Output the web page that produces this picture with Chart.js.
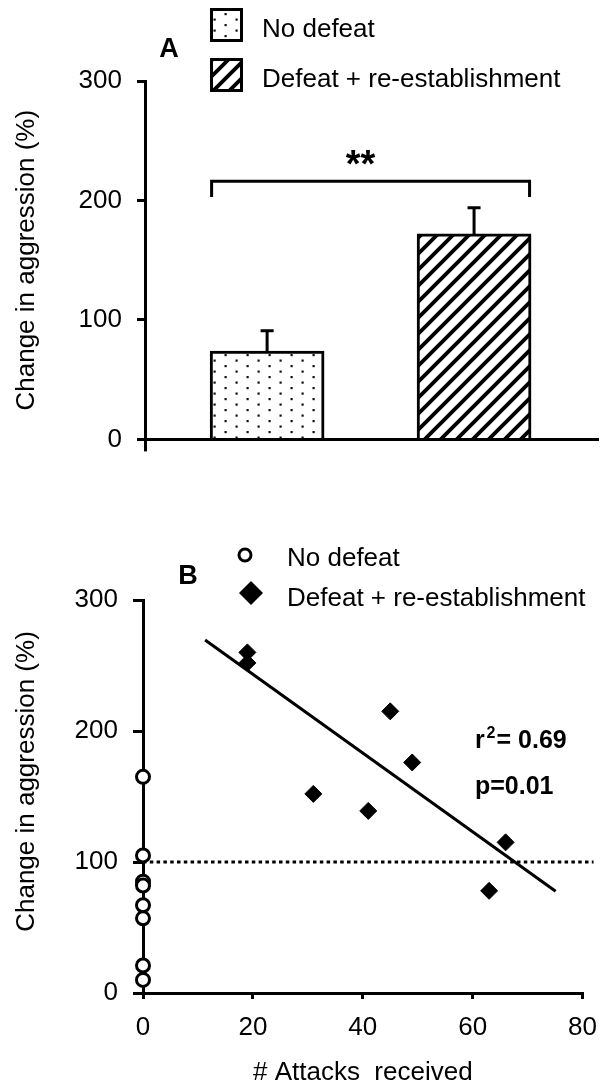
<!DOCTYPE html>
<html>
<head>
<meta charset="utf-8">
<script src="https://cdn.jsdelivr.net/npm/chart.js"></script>
<style>
  html, body { margin: 0; padding: 0; background: #fff; }
  body { width: 610px; height: 1084px; position: relative; overflow: hidden; }
  canvas { position: absolute; left: 0; }
  #chartA { top: 0; }
  #chartB { top: 500px; }
</style>
</head>
<body>
<canvas id="chartA" width="610" height="470"></canvas>
<canvas id="chartB" width="610" height="584"></canvas>
<script>
// Panel A: media y error por grupo
const groups = ['No defeat', 'Defeat + re-establishment'];
const groupPos = [1, 2];
const meanChange = [74, 172];
const semChange = [17, 22];
const yTicksA = [0, 100, 200, 300];

// Panel B: ataques recibidos vs cambio
const noDefeatAttacks = [0, 0, 0, 0, 0, 0, 0, 0];
const noDefeatChange = [165, 105, 85, 82, 67, 57, 21, 10];
const defeatAttacks = [19, 19, 31, 41, 45, 49, 66, 63];
const defeatChange = [260, 252, 152, 139, 215, 176, 115, 78];
const fitAttacks = [11.3, 75.1];
const fitChange = [269.4, 77.6];
const baselineAttacks = [0, 82];
const baselineChange = [100, 100];
const xTicksB = [0, 20, 40, 60, 80];
const yTicksB = [0, 100, 200, 300];

const FONT = "'Liberation Sans', Arial, sans-serif";

function dotPattern(ctx) {
    const c = document.createElement('canvas');
    c.width = 22; c.height = 11;
    const g = c.getContext('2d');
    g.fillStyle = '#fff';
    g.fillRect(0, 0, 22, 11);
    g.fillStyle = '#111';
    g.fillRect(4.5, 2, 2.2, 2.2);
    g.fillRect(15.5, 7.5, 2.2, 2.2);
    return ctx.createPattern(c, 'repeat');
}

function hatchPattern(ctx) {
    const c = document.createElement('canvas');
    c.width = 16; c.height = 16;
    const g = c.getContext('2d');
    g.fillStyle = '#fff';
    g.fillRect(0, 0, 16, 16);
    g.strokeStyle = '#000';
    g.lineWidth = 3.8;
    g.beginPath();
    g.moveTo(-2, 2); g.lineTo(2, -2);
    g.moveTo(-2, 18); g.lineTo(18, -2);
    g.moveTo(14, 18); g.lineTo(18, 14);
    g.stroke();
    return ctx.createPattern(c, 'repeat');
}

function text(ctx, str, x, y, size, bold, align) {
    ctx.font = (bold ? 'bold ' : '') + size + 'px ' + FONT;
    ctx.textAlign = align || 'left';
    ctx.textBaseline = 'alphabetic';
    ctx.fillStyle = '#000';
    ctx.fillText(str, x, y);
}

const tickGrid = len => ({ drawOnChartArea: false, offset: false, tickLength: len, lineWidth: 3, color: '#000' });
const axisBorder = { color: '#000', width: 3 };
const tickFont = { family: FONT, size: 26 };

// ---------- Panel A ----------
const ctxA = document.getElementById('chartA').getContext('2d');
const fillsA = [dotPattern(ctxA), hatchPattern(ctxA)];

const extrasA = {
    id: 'extrasA',
    afterDatasetsDraw(chart) {
        const { ctx, scales: { x, y } } = chart;
        ctx.save();
        ctx.strokeStyle = '#000';
        ctx.lineWidth = 3;

        // barras de error (solo hacia arriba)
        groupPos.forEach((p, i) => {
            const px = x.getPixelForValue(p);
            const top = y.getPixelForValue(meanChange[i] + semChange[i]);
            ctx.beginPath();
            ctx.moveTo(px, y.getPixelForValue(meanChange[i]));
            ctx.lineTo(px, top);
            ctx.moveTo(px - 6.5, top);
            ctx.lineTo(px + 6.5, top);
            ctx.stroke();
        });

        // corchete de significancia
        const half = 57 - 1.5;
        const xl = x.getPixelForValue(groupPos[0]) - half;
        const xr = x.getPixelForValue(groupPos[1]) + half;
        const yb = y.getPixelForValue(216);
        const yl = y.getPixelForValue(203);
        ctx.beginPath();
        ctx.moveTo(xl, yl); ctx.lineTo(xl, yb); ctx.lineTo(xr, yb); ctx.lineTo(xr, yl);
        ctx.stroke();
        text(ctx, '**', (xl + xr) / 2 - 10, 177, 38, true, 'center');

        text(ctx, 'A', 169, 57, 27, true, 'center');

        // leyenda
        [8, 58].forEach((top, i) => {
            ctx.fillStyle = fillsA[i];
            ctx.fillRect(211, top + 1, 31, 32);
            ctx.strokeRect(211.5, top + 1.5, 30, 31);
            text(ctx, groups[i], 262, top + 29, 26, false);
        });
        ctx.restore();
    }
};

new Chart(ctxA, {
    type: 'bar',
    data: {
        datasets: groups.map((g, i) => ({
            label: g,
            data: [{ x: groupPos[i], y: meanChange[i] }],
            backgroundColor: fillsA[i],
            borderColor: '#000',
            borderWidth: 3,
            barThickness: 114,
            grouped: false
        }))
    },
    options: {
        responsive: false,
        animation: false,
        events: [],
        layout: { padding: { top: 81, right: 13, left: 0, bottom: 0 } },
        plugins: { legend: { display: false }, tooltip: { enabled: false } },
        scales: {
            x: {
                type: 'linear',
                offset: false,
                min: 0.41,
                max: 2.594,
                afterBuildTicks: s => { s.ticks = [{ value: s.min }]; },
                afterFit: s => { s.height = 28; },
                ticks: { display: false },
                grid: tickGrid(12),
                border: axisBorder
            },
            y: {
                min: 0,
                max: 300,
                afterBuildTicks: s => { s.ticks = yTicksA.map(v => ({ value: v })); },
                afterFit: s => { s.width = 145; },
                ticks: { color: '#000', font: tickFont, padding: 15 },
                grid: tickGrid(8),
                border: axisBorder,
                title: {
                    display: true,
                    text: 'Change in aggression (%)',
                    color: '#000',
                    font: { family: FONT, size: 26 },
                    padding: { top: 11, bottom: 0 }
                }
            }
        }
    },
    plugins: [extrasA]
});

// ---------- Panel B ----------
const ctxB = document.getElementById('chartB').getContext('2d');

const extrasB = {
    id: 'extrasB',
    afterDraw(chart) {
        const ctx = chart.ctx;
        ctx.save();
        text(ctx, 'B', 188, 84, 27, true, 'center');

        // leyenda
        ctx.lineWidth = 3;
        ctx.strokeStyle = '#000';
        ctx.fillStyle = '#fff';
        ctx.beginPath();
        ctx.arc(245, 55, 6, 0, Math.PI * 2);
        ctx.fill();
        ctx.stroke();
        text(ctx, groups[0], 287, 66, 26, false);

        ctx.fillStyle = '#000';
        ctx.beginPath();
        ctx.moveTo(251 - 12, 93); ctx.lineTo(251, 81); ctx.lineTo(251 + 12, 93); ctx.lineTo(251, 105);
        ctx.closePath();
        ctx.fill();
        text(ctx, groups[1], 287, 106, 26, false);

        // estadistica
        text(ctx, 'r', 475, 248, 25, true);
        text(ctx, '2', 486.5, 238, 16, true);
        text(ctx, '= 0.69', 496.5, 248, 25, true);
        text(ctx, 'p=0.01', 475, 294, 25, true);

        // titulo eje y
        ctx.translate(27, 281.5);
        ctx.rotate(-Math.PI / 2);
        ctx.font = '26px ' + FONT;
        ctx.textAlign = 'center';
        ctx.textBaseline = 'middle';
        ctx.fillStyle = '#000';
        ctx.fillText('Change in aggression (%)', 0, 0);
        ctx.restore();
    }
};

const toPoints = (xs, ys) => xs.map((v, i) => ({ x: v, y: ys[i] }));

new Chart(ctxB, {
    type: 'scatter',
    data: {
        datasets: [
            {
                label: groups[0],
                data: toPoints(noDefeatAttacks, noDefeatChange),
                pointStyle: 'circle',
                pointRadius: 6.5,
                pointBorderWidth: 3,
                pointBorderColor: '#000',
                pointBackgroundColor: '#fff',
                clip: false
            },
            {
                label: groups[1],
                data: toPoints(defeatAttacks, defeatChange),
                pointStyle: 'rectRot',
                pointRadius: 8.5,
                pointBorderWidth: 1,
                pointBorderColor: '#000',
                pointBackgroundColor: '#000',
                clip: false
            },
            {
                label: 'fit',
                data: toPoints(fitAttacks, fitChange),
                showLine: true,
                borderColor: '#000',
                borderWidth: 3,
                pointRadius: 0,
                clip: false
            },
            {
                label: 'baseline',
                data: toPoints(baselineAttacks, baselineChange),
                showLine: true,
                borderColor: '#000',
                borderWidth: 3,
                borderDash: [3.5, 3.3],
                pointRadius: 0,
                clip: false
            }
        ]
    },
    options: {
        responsive: false,
        animation: false,
        events: [],
        layout: { padding: { top: 100, right: 22, left: 0, bottom: 0 } },
        plugins: { legend: { display: false }, tooltip: { enabled: false } },
        scales: {
            x: {
                type: 'linear',
                min: 0,
                max: 80,
                afterBuildTicks: s => { s.ticks = xTicksB.map(v => ({ value: v })); },
                afterFit: s => { s.height = 91; },
                ticks: { color: '#000', font: tickFont, padding: 13 },
                grid: tickGrid(6),
                border: axisBorder,
                title: {
                    display: true,
                    text: '# Attacks  received',
                    color: '#000',
                    font: { family: FONT, size: 26 },
                    padding: { top: 0, bottom: -4 }
                }
            },
            y: {
                min: 0,
                max: 300,
                afterBuildTicks: s => { s.ticks = yTicksB.map(v => ({ value: v })); },
                afterFit: s => { s.width = 143; },
                ticks: { color: '#000', font: tickFont, padding: 15 },
                grid: tickGrid(10),
                border: axisBorder
            }
        }
    },
    plugins: [extrasB]
});
</script>
</body>
</html>
